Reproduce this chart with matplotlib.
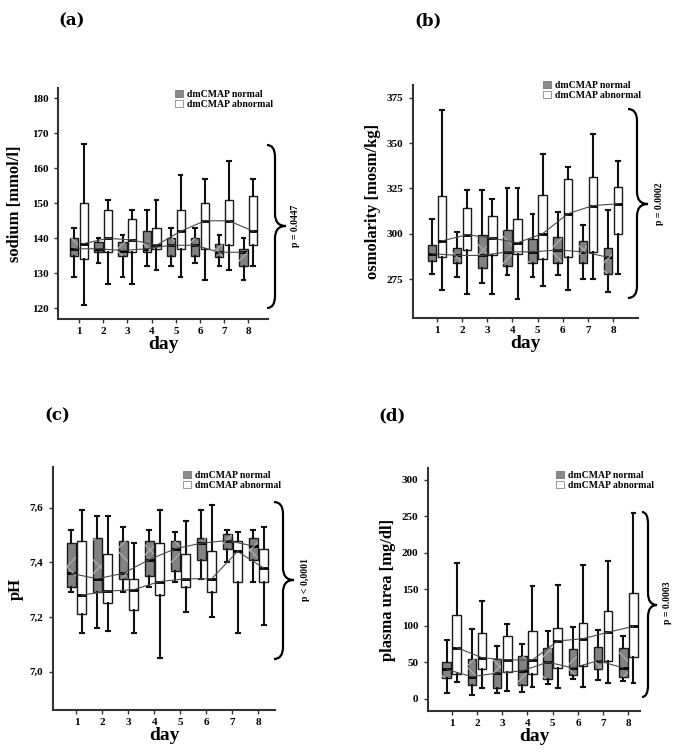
import matplotlib
matplotlib.use("Agg")
import matplotlib.pyplot as plt
from matplotlib.patches import Patch, PathPatch
from matplotlib.path import Path
import numpy as np

# ---------------- data ----------------
days = [1, 2, 3, 4, 5, 6, 7, 8]
legend_labels = ["dmCMAP normal", "dmCMAP abnormal"]

# each entry: (lower whisker, Q1, median, Q3, upper whisker) per day
sodium_normal = [(129, 135, 137, 140, 143), (133, 136, 137, 139, 140), (129, 135, 136.5, 139, 141),
                 (132, 136, 137, 142, 148), (132, 135, 138, 140, 143), (133, 135, 138, 140, 143),
                 (132, 134.5, 136, 138.5, 141), (128, 132, 136, 137, 140)]
sodium_abnormal = [(121, 134, 138.5, 150, 167), (127, 136, 140, 148, 151), (127, 136, 139.5, 145.5, 148),
                   (131, 137, 138, 143, 151), (129, 137, 142, 148, 158), (128, 137, 145, 150, 157),
                   (131, 138, 145, 151, 162), (132, 138, 142, 152, 157)]

osmo_normal = [(278, 285, 289, 294, 308), (276, 284, 288, 292, 301), (273, 281, 288, 299, 324),
               (277, 282, 290, 302, 325), (276, 284, 290, 297, 311), (277, 284, 291, 298, 312),
               (275, 284, 290, 296, 305), (268, 278, 287, 292, 313)]
osmo_abnormal = [(269, 287, 296, 321, 368), (267, 291, 299.5, 314, 324), (267, 288, 297.5, 310, 319),
                 (264, 289, 295, 308, 325), (271, 286, 300, 321.5, 344), (269, 287, 311, 330, 337),
                 (275, 290, 315.5, 331, 355), (278, 300, 316.5, 326, 340)]

ph_normal = [(7.29, 7.31, 7.36, 7.47, 7.52), (7.16, 7.29, 7.34, 7.49, 7.57), (7.29, 7.34, 7.36, 7.48, 7.53),
             (7.31, 7.35, 7.41, 7.48, 7.52), (7.33, 7.37, 7.45, 7.48, 7.51), (7.34, 7.41, 7.47, 7.49, 7.59),
             (7.40, 7.45, 7.48, 7.505, 7.52), (7.33, 7.41, 7.46, 7.49, 7.52)]
ph_abnormal = [(7.14, 7.21, 7.28, 7.48, 7.59), (7.15, 7.25, 7.295, 7.43, 7.57), (7.14, 7.225, 7.30, 7.34, 7.47),
               (7.05, 7.28, 7.33, 7.47, 7.59), (7.22, 7.31, 7.34, 7.43, 7.55), (7.20, 7.29, 7.34, 7.44, 7.61),
               (7.14, 7.33, 7.44, 7.48, 7.51), (7.17, 7.33, 7.38, 7.45, 7.53)]

urea_normal = [(8, 28, 40, 50, 80), (5, 19, 30, 54, 95), (8, 15, 35, 54, 72), (9, 18, 38, 59, 75),
               (20, 27, 50, 70, 92), (27, 33, 42, 68, 98), (25, 41, 52, 71, 94), (24, 30, 42, 70, 86)]
urea_abnormal = [(23, 34, 70, 114, 186), (15, 40, 56, 90, 134), (11, 36, 53, 86, 102), (16, 34, 53, 92, 154),
                 (14, 42, 79, 97, 156), (16, 44, 82, 104, 183), (21, 51, 91, 120, 189), (22, 57, 99, 145, 255)]

panel_letters = ["(a)", "(b)", "(c)", "(d)"]
y_labels = ["sodium [mmol/l]", "osmolarity [mosm/kg]", "pH", "plasma urea [mg/dl]"]
p_texts = ["p = 0.0447", "p = 0.0002", "p < 0,0001", "p = 0.0003"]
yticks_sodium = [120, 130, 140, 150, 160, 170, 180]
yticks_osmo = [275, 300, 325, 350, 375]
yticks_ph = [7.0, 7.2, 7.4, 7.6]
yticklabels_ph = ["7,0", "7,2", "7,4", "7,6"]
yticks_urea = [0, 50, 100, 150, 200, 250, 300]

# ---------------- layout ----------------
W, H = 685, 752
plt.rcParams["font.family"] = ["Liberation Serif", "DejaVu Serif"]
fig = plt.figure(figsize=(W / 100, H / 100), dpi=100)


def ax_rect(left, right, top, bottom):
    return [left / W, 1 - bottom / H, (right - left) / W, (bottom - top) / H]


def fx(x):
    return x / W


def fy(y):
    return 1 - y / H


panels = [
    dict(rect=ax_rect(58, 268, 88, 319), normal=sodium_normal, abnormal=sodium_abnormal,
         ylim=(116.9, 183.0), xlim=(0.13, 8.81), yticks=yticks_sodium, yticklabels=[str(v) for v in yticks_sodium],
         letter_xy=(72, 21), leg_xy=(175, 90), labelpad=6,
         brace=(267, 275, 286, 145, 226, 308), ptext_xy=(295, 226)),
    dict(rect=ax_rect(413, 638, 85, 318), normal=osmo_normal, abnormal=osmo_abnormal,
         ylim=(253.5, 382.0), xlim=(0.045, 8.99), yticks=yticks_osmo, yticklabels=[str(v) for v in yticks_osmo],
         letter_xy=(428, 21), leg_xy=(543, 81), labelpad=4,
         brace=(628, 637, 648, 109, 204, 298), ptext_xy=(659, 204)),
    dict(rect=ax_rect(53, 275, 467, 710), normal=ph_normal, abnormal=ph_abnormal,
         ylim=(6.86, 7.749), xlim=(0.10, 8.64), yticks=yticks_ph, yticklabels=yticklabels_ph,
         letter_xy=(57, 416), leg_xy=(183, 471), labelpad=4,
         brace=(274, 283, 294, 502, 580, 659), ptext_xy=(305, 580)),
    dict(rect=ax_rect(428, 640, 468, 711), normal=urea_normal, abnormal=urea_abnormal,
         ylim=(-17, 316), xlim=(0.06, 8.46), yticks=yticks_urea, yticklabels=[str(v) for v in yticks_urea],
         letter_xy=(392, 416), leg_xy=(556, 471), labelpad=4,
         brace=(642, 648, 657, 512, 605, 697), ptext_xy=(668, 603)),
]

normal_face = "#828282"
off_normal, off_abnormal, box_w = -0.2, 0.2, 0.34


def make_stats(rows):
    return [dict(whislo=r[0], q1=r[1], med=r[2], q3=r[3], whishi=r[4], label="") for r in rows]


def draw_brace(x0, xv, xt, ytop, ymid, ybot, k=12):
    verts = [(x0, ytop), (xv, ytop), (xv, ytop + k), (xv, ymid - k), (xv, ymid), (xt, ymid),
             (xv, ymid), (xv, ymid + k), (xv, ybot - k), (xv, ybot), (x0, ybot)]
    codes = [Path.MOVETO, Path.CURVE3, Path.CURVE3, Path.LINETO, Path.CURVE3, Path.CURVE3,
             Path.CURVE3, Path.CURVE3, Path.LINETO, Path.CURVE3, Path.CURVE3]
    verts = [(fx(x), fy(y)) for x, y in verts]
    fig.patches.append(PathPatch(Path(verts, codes), transform=fig.transFigure, facecolor="none",
                                 edgecolor="black", lw=1.6))


for i, p in enumerate(panels):
    ax = fig.add_axes(p["rect"])
    pos_n = np.array(days) + off_normal
    pos_a = np.array(days) + off_abnormal
    common = dict(widths=box_w, patch_artist=True, showfliers=False, manage_ticks=False,
                  medianprops=dict(color="black", lw=2.0),
                  whiskerprops=dict(color="#111111", lw=1.5),
                  capprops=dict(color="#111111", lw=1.5), capwidths=0.15)
    bn = ax.bxp(make_stats(p["normal"]), positions=pos_n,
                boxprops=dict(facecolor=normal_face, edgecolor="#1a1a1a", lw=1.0), **common)
    ba = ax.bxp(make_stats(p["abnormal"]), positions=pos_a,
                boxprops=dict(facecolor="white", edgecolor="#1a1a1a", lw=1.0), **common)
    for b in bn["boxes"]:
        ax.add_patch(PathPatch(b.get_path(), facecolor="none", edgecolor="#a9a9a9", lw=0,
                               hatch="x", zorder=b.get_zorder() + 0.1))
    # median trend lines
    ax.plot(pos_n, [r[2] for r in p["normal"]], color="#4a4a4a", lw=0.8, zorder=4)
    ax.plot(pos_a, [r[2] for r in p["abnormal"]], color="#4a4a4a", lw=0.8, zorder=4)

    ax.set_xlim(*p["xlim"])
    ax.set_ylim(*p["ylim"])
    ax.set_xticks(days)
    ax.set_xticklabels([str(d) for d in days], fontsize=8, fontweight="bold")
    ax.set_yticks(p["yticks"])
    ax.set_yticklabels(p["yticklabels"], fontsize=8, fontweight="bold")
    ax.tick_params(axis="x", length=3, width=1.0, direction="out", color="#333333", pad=3)
    ax.tick_params(axis="y", length=3, width=1.0, direction="out", color="#333333", pad=4)
    for s in ("top", "right"):
        ax.spines[s].set_visible(False)
    for s in ("left", "bottom"):
        ax.spines[s].set_linewidth(1.5)
        ax.spines[s].set_color("#333333")
    ax.set_ylabel(y_labels[i], fontsize=12, fontweight="bold", labelpad=p["labelpad"])
    ax.set_xlabel("day", fontsize=14, fontweight="bold", labelpad=0)

    lx, ly = p["leg_xy"]
    ax.legend(handles=[Patch(facecolor="#8a8a8a", edgecolor="#777777", lw=0.6),
                       Patch(facecolor="white", edgecolor="#888888", lw=0.6)],
              labels=legend_labels, loc="upper left", bbox_to_anchor=(fx(lx), fy(ly)),
              bbox_transform=fig.transFigure, frameon=False,
              prop=dict(size=7, weight="bold"), handlelength=0.8, handleheight=0.8,
              handletextpad=0.4, labelspacing=0.05, borderpad=0, borderaxespad=0)

    fig.text(fx(p["letter_xy"][0]), fy(p["letter_xy"][1]), panel_letters[i], fontsize=12,
             fontweight="bold", family="DejaVu Serif", ha="center", va="center")
    draw_brace(*p["brace"])
    fig.text(fx(p["ptext_xy"][0]), fy(p["ptext_xy"][1]), p_texts[i], rotation=90, fontsize=7,
             fontweight="bold", ha="center", va="center")

fig.savefig("out.png", dpi=100)
